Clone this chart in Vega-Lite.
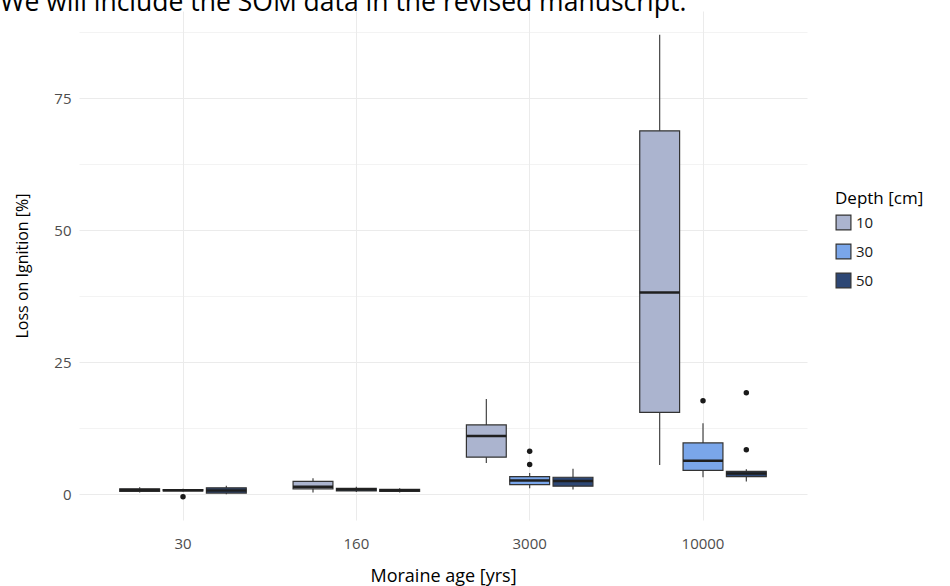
{
  "$schema": "https://vega.github.io/schema/vega-lite/v6.json",
  "width": 728,
  "height": 509,
  "autosize": "none",
  "padding": {"left": 79, "top": 11, "right": 143, "bottom": 66},
  "background": "white",
  "view": {"stroke": null},
  "title": {
    "text": "We will include the SOM data in the revised manuscript.",
    "anchor": "start",
    "frame": "group",
    "orient": "top",
    "dx": -79,
    "offset": 0,
    "dy": 26,
    "baseline": "alphabetic",
    "font": "Open Sans",
    "fontSize": 26.5,
    "fontWeight": "normal",
    "color": "#000000"
  },
  "datasets": {
    "stats": [
      {"age": "30", "depth": "10", "lo": 0.3, "q1": 0.5, "med": 0.8, "q3": 1.0, "hi": 1.3},
      {"age": "30", "depth": "30", "lo": 0.5, "q1": 0.6, "med": 0.75, "q3": 0.85, "hi": 1.0},
      {"age": "30", "depth": "50", "lo": 0.0, "q1": 0.2, "med": 0.7, "q3": 1.2, "hi": 1.6},
      {"age": "160", "depth": "10", "lo": 0.3, "q1": 1.0, "med": 1.4, "q3": 2.4, "hi": 3.0},
      {"age": "160", "depth": "30", "lo": 0.4, "q1": 0.6, "med": 0.9, "q3": 1.1, "hi": 1.4},
      {"age": "160", "depth": "50", "lo": 0.3, "q1": 0.5, "med": 0.75, "q3": 0.9, "hi": 1.1},
      {"age": "3000", "depth": "10", "lo": 5.9, "q1": 7.0, "med": 11.0, "q3": 13.1, "hi": 18.0},
      {"age": "3000", "depth": "30", "lo": 1.1, "q1": 1.8, "med": 2.6, "q3": 3.3, "hi": 4.0},
      {"age": "3000", "depth": "50", "lo": 0.9, "q1": 1.5, "med": 2.5, "q3": 3.2, "hi": 4.8},
      {"age": "10000", "depth": "10", "lo": 5.5, "q1": 15.5, "med": 38.2, "q3": 68.8, "hi": 87.0},
      {"age": "10000", "depth": "30", "lo": 3.2, "q1": 4.5, "med": 6.3, "q3": 9.7, "hi": 13.4},
      {"age": "10000", "depth": "50", "lo": 2.4, "q1": 3.3, "med": 3.9, "q3": 4.3, "hi": 4.7}
    ],
    "outliers": [
      {"age": "30", "depth": "30", "value": -0.5},
      {"age": "3000", "depth": "30", "value": 5.6},
      {"age": "3000", "depth": "30", "value": 8.1},
      {"age": "10000", "depth": "30", "value": 17.7},
      {"age": "10000", "depth": "50", "value": 19.2},
      {"age": "10000", "depth": "50", "value": 8.4}
    ]
  },
  "encoding": {
    "x": {
      "field": "age",
      "type": "ordinal",
      "sort": ["30", "160", "3000", "10000"],
      "scale": {"paddingInner": 0, "paddingOuter": 0.1},
      "axis": {
        "title": "Moraine age [yrs]",
        "labelAngle": 0,
        "labelFont": "Open Sans",
        "labelFontSize": 15,
        "labelColor": "#4d4d4d",
        "labelPadding": 16,
        "titleFont": "Open Sans",
        "titleFontSize": 18,
        "titleFontWeight": "normal",
        "titleColor": "#000000",
        "titlePadding": 16,
        "ticks": false,
        "domain": false,
        "grid": true,
        "gridColor": "#ebebeb",
        "gridWidth": 1
      }
    },
    "xOffset": {
      "field": "depth",
      "type": "nominal",
      "sort": ["10", "30", "50"],
      "scale": {"paddingInner": 0.08, "paddingOuter": 0.54}
    },
    "y": {
      "type": "quantitative",
      "scale": {"domain": [-4.9, 91.5], "nice": false, "zero": false},
      "axis": {
        "title": "Loss on Ignition [%]",
        "values": [0, 12.5, 25, 37.5, 50, 62.5, 75, 87.5],
        "labelExpr": "datum.value % 25 === 0 ? datum.label : ''",
        "labelFont": "Open Sans",
        "labelFontSize": 15,
        "labelColor": "#4d4d4d",
        "labelPadding": 8,
        "titleFont": "Open Sans",
        "titleFontSize": 16,
        "titleFontWeight": "normal",
        "titleColor": "#000000",
        "titlePadding": 23,
        "ticks": false,
        "domain": false,
        "grid": true,
        "gridColor": "#ebebeb",
        "gridWidth": {"condition": {"test": "datum.value % 25 !== 0", "value": 0.6}, "value": 1}
      }
    }
  },
  "layer": [
    {
      "data": {"name": "stats"},
      "mark": {"type": "rule", "color": "#444444", "strokeWidth": 1.2},
      "encoding": {
        "y": {"field": "lo", "type": "quantitative"},
        "y2": {"field": "hi"}
      }
    },
    {
      "data": {"name": "stats"},
      "mark": {"type": "bar", "stroke": "#333333", "strokeWidth": 1.2},
      "encoding": {
        "y": {"field": "q1", "type": "quantitative"},
        "y2": {"field": "q3"},
        "fill": {
          "field": "depth",
          "type": "nominal",
          "scale": {"domain": ["10", "30", "50"], "range": ["#abb4cf", "#7aa6ea", "#2d4775"]},
          "legend": {
            "title": "Depth [cm]",
            "orient": "none",
            "legendX": 756,
            "legendY": 180,
            "titleFont": "Open Sans",
            "titleFontSize": 17,
            "titleFontWeight": "normal",
            "titleColor": "#000000",
            "titlePadding": 6,
            "labelFont": "Open Sans",
            "labelFontSize": 15,
            "labelColor": "#1a1a1a",
            "symbolType": "square",
            "symbolSize": 220,
            "symbolStrokeColor": "#333333",
            "symbolStrokeWidth": 1.2,
            "rowPadding": 8,
            "offset": 0
          }
        }
      }
    },
    {
      "data": {"name": "stats"},
      "mark": {"type": "tick", "orient": "horizontal", "size": 40, "thickness": 2.5, "color": "#1f1f1f", "opacity": 1},
      "encoding": {
        "y": {"field": "med", "type": "quantitative"}
      }
    },
    {
      "data": {"name": "outliers"},
      "mark": {"type": "circle", "color": "#1a1a1a", "size": 30, "opacity": 1},
      "encoding": {
        "y": {"field": "value", "type": "quantitative"}
      }
    }
  ]
}
